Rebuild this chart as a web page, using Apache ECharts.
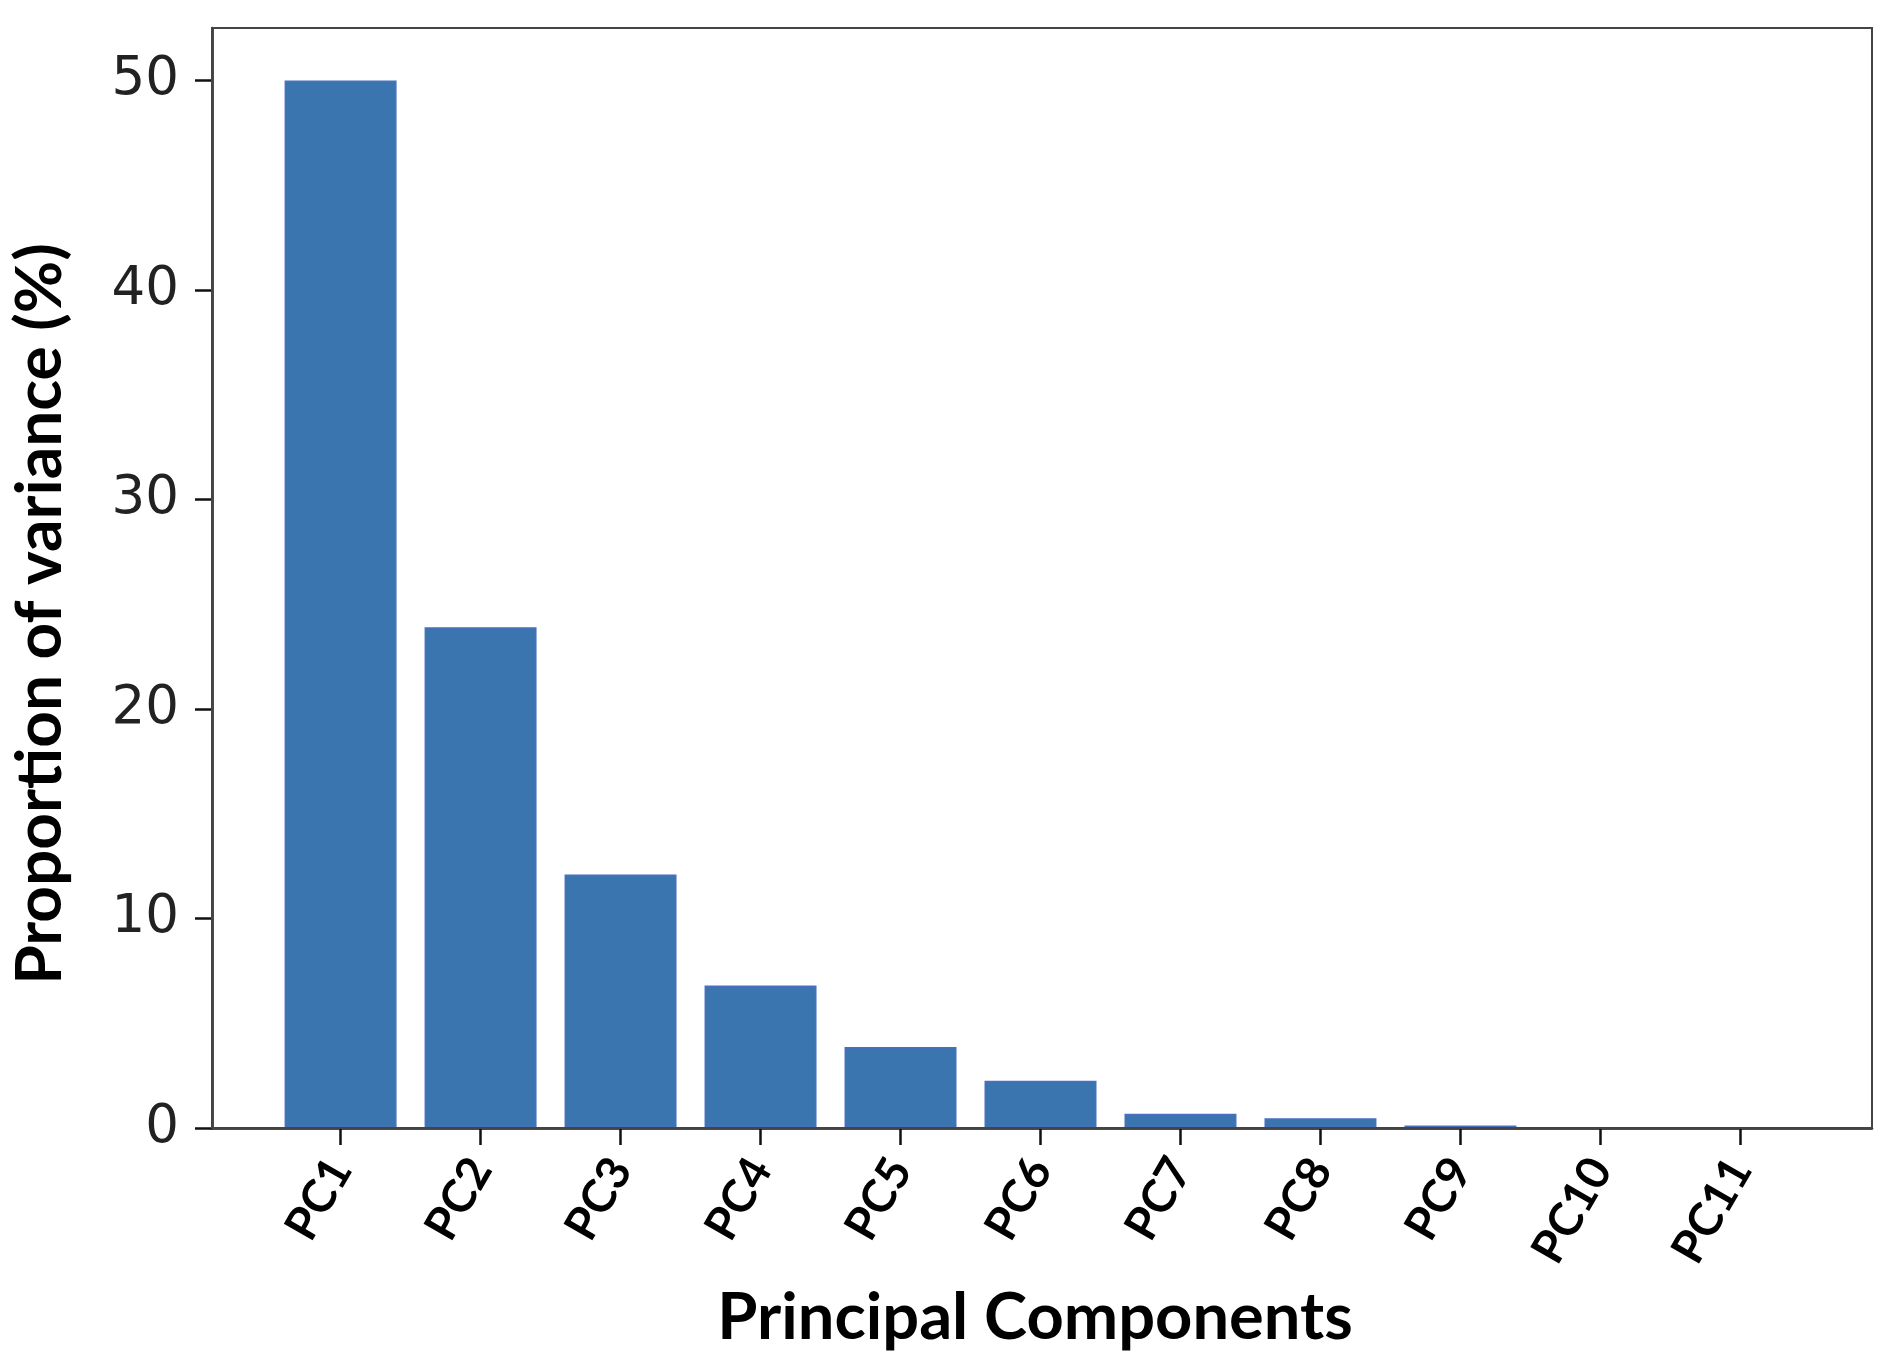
<!DOCTYPE html>
<html>
<head>
<meta charset="utf-8">
<script src="https://cdn.jsdelivr.net/npm/echarts@6/dist/echarts.min.js"></script>
<style>
  html, body { margin: 0; padding: 0; background: #ffffff; }
  #chart { width: 1903px; height: 1370px; }
</style>
</head>
<body>
<div id="chart"></div>
<script>
const categories = ['PC1', 'PC2', 'PC3', 'PC4', 'PC5', 'PC6', 'PC7', 'PC8', 'PC9', 'PC10', 'PC11'];
const variance = [50.0, 23.9, 12.1, 6.8, 3.86, 2.25, 0.68, 0.47, 0.12, 0.0, 0.0];
const yTicks = [0, 10, 20, 30, 40, 50];
const yMax = 52.5;
const xTitle = 'Principal Components';
const yTitle = 'Proportion of variance (%)';

const chart = echarts.init(document.getElementById('chart'), null, { renderer: 'canvas' });

const frameLeft = 209, frameRight = 31, frameTop = 28, frameBottom = 242;
const frameWidth = 1903 - frameLeft - frameRight;
// matplotlib-style margins: x range spans (n - 1) + 2*0.94 units
const unit = frameWidth / (categories.length - 1 + 1.88);
const inset = 0.44 * unit;

const option = {
  backgroundColor: '#ffffff',
  animation: false,
  grid: [
    { left: frameLeft, right: frameRight, top: frameTop, bottom: frameBottom,
      show: true, borderColor: '#444444', borderWidth: 2, backgroundColor: 'transparent', z: 5 },
    { left: frameLeft + inset, right: frameRight + inset, top: frameTop, bottom: frameBottom }
  ],
  xAxis: [
    { type: 'value', gridIndex: 0, min: 0, max: 1,
      axisLine: { show: true, lineStyle: { color: '#111111', width: 2.5 } },
      axisTick: { show: false }, axisLabel: { show: false }, splitLine: { show: false },
      name: xTitle, nameLocation: 'middle', nameGap: 158,
      nameTextStyle: { fontFamily: 'Lato', fontWeight: 'bold', fontSize: 65, color: '#000000', padding: [0, 14, 0, 0] } },
    { type: 'category', gridIndex: 1, data: categories,
      axisLine: { show: false },
      axisTick: { show: true, alignWithLabel: true, length: 17, lineStyle: { color: '#111111', width: 2.5 } },
      axisLabel: { rotate: 60, margin: 34, interval: 0, fontFamily: 'Lato', fontWeight: 'bold', fontSize: 46, color: '#000000' },
      splitLine: { show: false } }
  ],
  yAxis: [
    { type: 'value', gridIndex: 0, min: 0, max: yMax,
      axisLine: { show: true, lineStyle: { color: '#111111', width: 2.5 } },
      axisTick: { show: true, length: 17, customValues: yTicks, lineStyle: { color: '#111111', width: 2.5 } },
      axisLabel: { customValues: yTicks, margin: 33, fontFamily: 'DejaVu Sans', fontSize: 53, color: '#222222' },
      splitLine: { show: false },
      name: yTitle, nameLocation: 'middle', nameGap: 140,
      nameTextStyle: { fontFamily: 'Lato', fontWeight: 'bold', fontSize: 64, color: '#000000', padding: [0, 72, 0, 0] } },
    { type: 'value', gridIndex: 1, min: 0, max: yMax, show: false }
  ],
  series: [
    { type: 'bar', xAxisIndex: 1, yAxisIndex: 1, data: variance, barWidth: '80%',
      itemStyle: { color: '#3B75AF', borderColor: '#4A6EC0', borderWidth: 1.5 } }
  ]
};

chart.setOption(option);
</script>
</body>
</html>
